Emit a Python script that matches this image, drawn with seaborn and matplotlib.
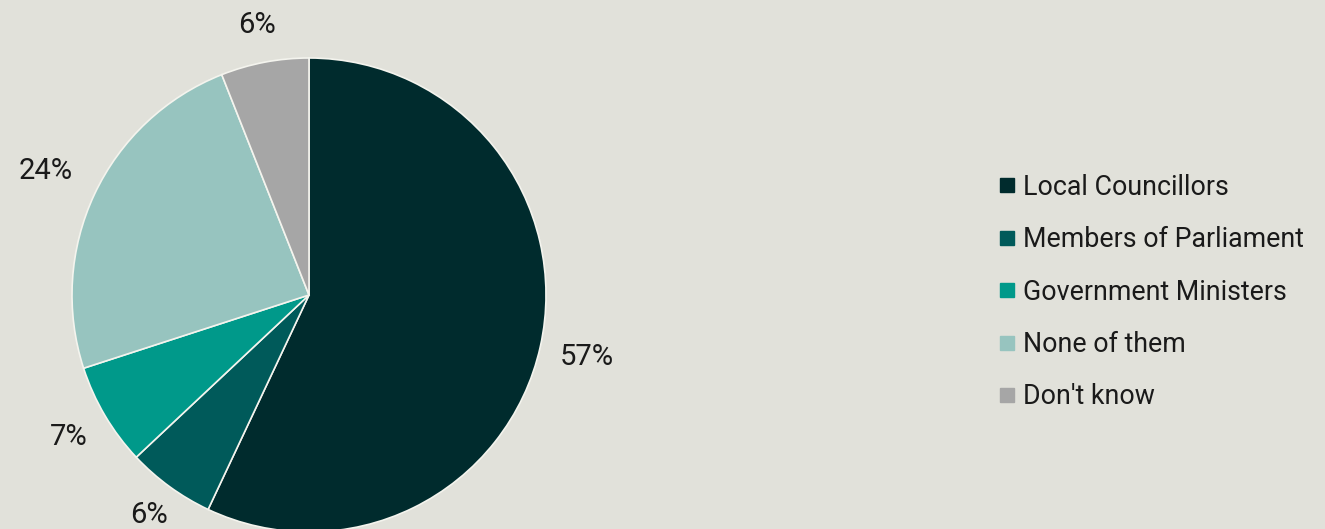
import matplotlib
matplotlib.use("Agg")
import matplotlib.pyplot as plt
from matplotlib.lines import Line2D
import seaborn as sns

categories = ["Local Councillors", "Members of Parliament", "Government Ministers",
              "None of them", "Don't know"]
values = [57, 6, 7, 24, 6]
colors = ["#002b2d", "#005a5a", "#00998a", "#97c4bf", "#a6a6a6"]
# radial distance of each percentage label, in pie radii
label_dist = [1.20, 1.15, 1.18, 1.23, 1.16]

bg = "#e1e1da"
sns.set_theme(style="white", rc={"figure.facecolor": bg, "axes.facecolor": bg})
plt.rcParams["font.family"] = ["Roboto", "DejaVu Sans"]

palette = sns.color_palette(colors)

fig = plt.figure(figsize=(13.25, 5.29), dpi=100)
W, H = 1325, 529
cx, cy, r = 309, 295, 237
ax = fig.add_axes([(cx - r) / W, (H - cy - r) / H, 2 * r / W, 2 * r / H])

wedges, texts, autotexts = ax.pie(
    values, colors=palette, startangle=90, counterclock=False,
    autopct=lambda p: f"{p:.0f}%", pctdistance=1.0,
    wedgeprops=dict(edgecolor="#f4f4ee", linewidth=1.2),
    textprops=dict(fontsize=21, color="#1a1a1a"),
)
for t, d in zip(autotexts, label_dist):
    x, y = t.get_position()
    t.set_position((x * d, y * d))

ax.set_xlim(-1, 1)
ax.set_ylim(-1, 1)
ax.set_aspect("equal")
ax.axis("off")

handles = [Line2D([0], [0], marker="s", linestyle="none", markersize=9.5,
                  markerfacecolor=c, markeredgecolor=c) for c in palette]
fig.legend(handles, categories, loc="center left",
           bbox_to_anchor=(1000 / W, 1 - 292 / H), frameon=False,
           prop=dict(size=19.3), labelcolor="#1a1a1a",
           handlelength=0.55, handletextpad=0.3, labelspacing=0.95,
           borderpad=0, borderaxespad=0)

fig.savefig("out.png", dpi=100, facecolor=bg)
